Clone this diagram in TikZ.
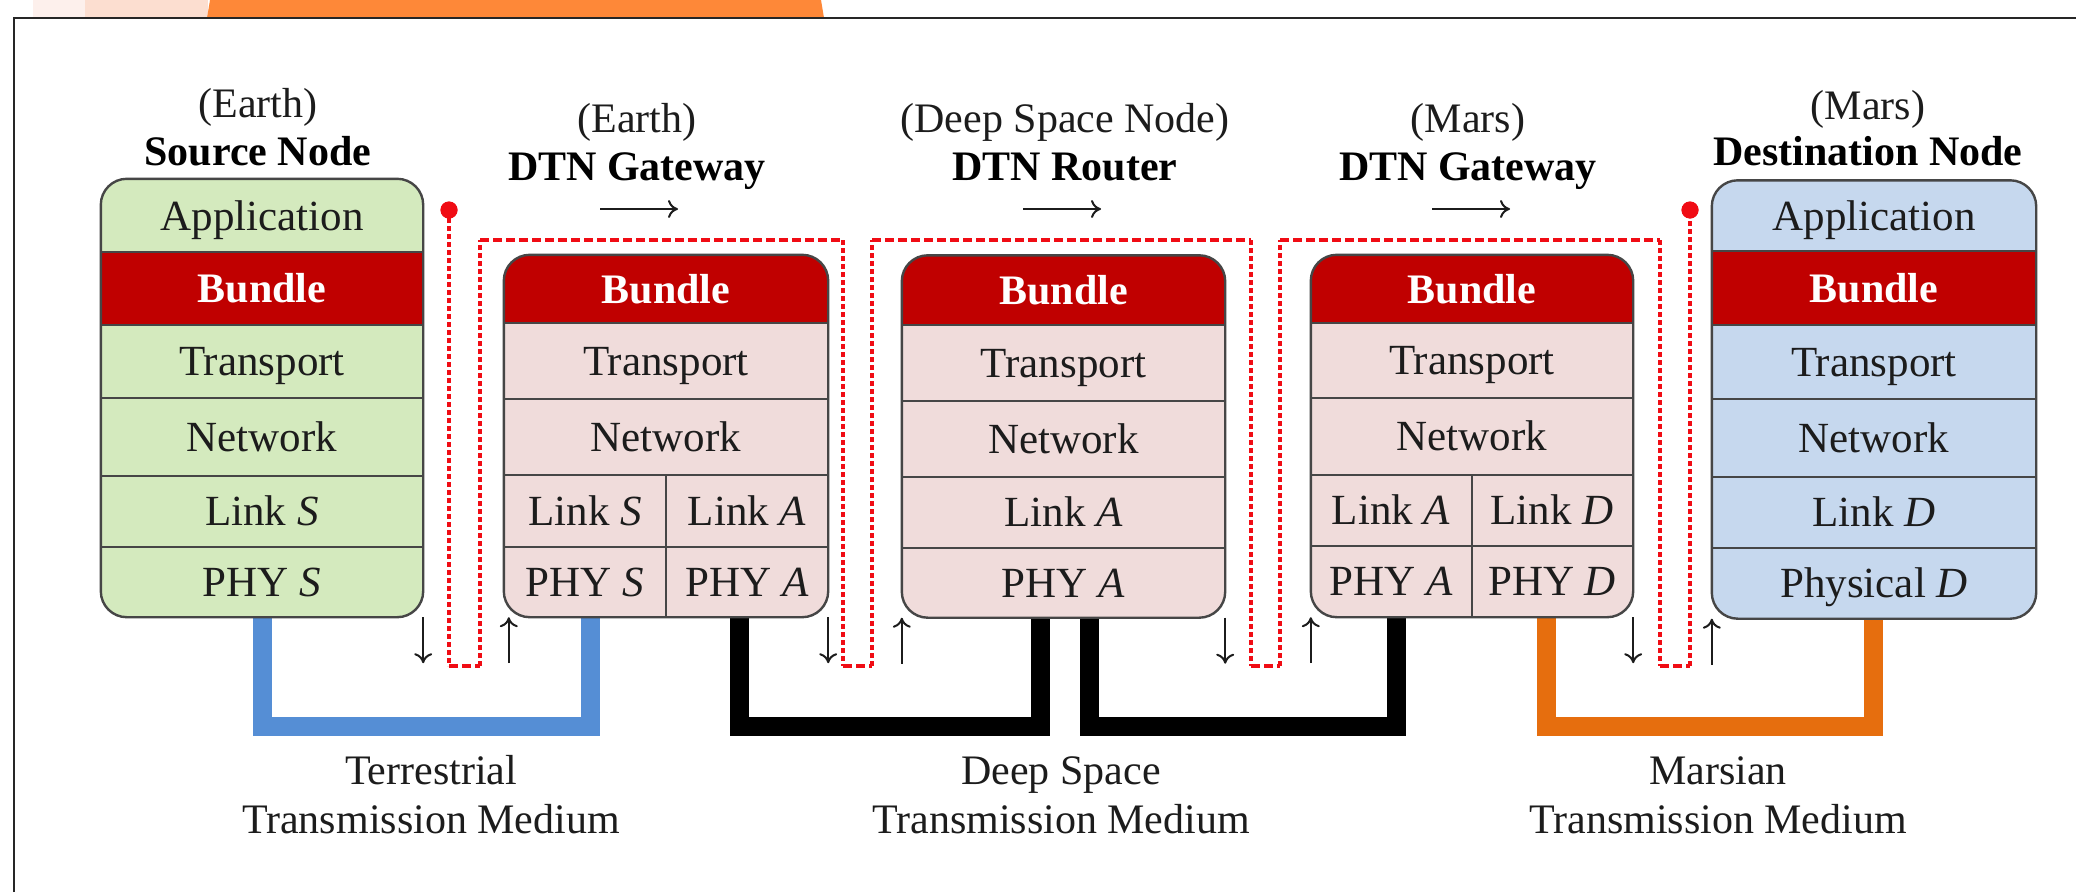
\documentclass[tikz,border=0pt]{standalone}
\usepackage{fontspec}
\setmainfont{Liberation Serif}
\usetikzlibrary{arrows.meta}

\definecolor{srcgreen}{RGB}{212,234,190}
\definecolor{gwpink}{RGB}{240,220,219}
\definecolor{dstblue}{RGB}{198,216,238}
\definecolor{bundlered}{RGB}{192,0,0}
\definecolor{terrblue}{RGB}{85,142,213}
\definecolor{marsorange}{RGB}{230,110,14}
\definecolor{pathred}{RGB}{240,12,20}
\definecolor{ribbon}{RGB}{254,136,56}
\definecolor{peach}{RGB}{252,222,208}
\definecolor{blush}{RGB}{253,240,236}
\definecolor{ink}{RGB}{28,28,28}
\definecolor{edge}{RGB}{70,70,70}

\begin{document}
\begin{tikzpicture}[x=1pt,y=-1pt,
  stackfill/.style={inner sep=0pt,rounded corners=26pt},
  stackbox/.style={draw=edge,line width=2.4pt,rounded corners=26pt},
  sep/.style={draw=edge,line width=2.4pt},
  lay/.style={anchor=base,inner sep=0pt,text=ink,font=\fontsize{43}{50}\selectfont},
  bun/.style={anchor=base,inner sep=0pt,text=white,font=\fontsize{42}{50}\selectfont\bfseries},
  head/.style={anchor=base,inner sep=0pt,text=ink,font=\fontsize{42}{50}\selectfont},
  headb/.style={anchor=base,inner sep=0pt,text=black,font=\fontsize{42}{50}\selectfont\bfseries},
  medlabel/.style={anchor=base,inner sep=0pt,text=ink,font=\fontsize{42}{50}\selectfont},
  medium/.style={line width=19pt},
  hop/.style={draw=ink,line width=2pt,-{To[length=10pt,width=18pt]}},
  vseg/.style={draw=pathred,line width=4pt,dash pattern=on 5pt off 3pt},
  hseg/.style={draw=pathred,line width=4pt,dash pattern=on 9pt off 4pt},
  enddot/.style={circle,fill=pathred,minimum size=17pt,inner sep=0pt}
]
\useasboundingbox (0,0) rectangle (2076,892);
\fill[white] (0,0) rectangle (2076,892);

% slide ribbon above the frame
\fill[blush] (33,0) rectangle (86,18);
\fill[peach] (85,0) rectangle (208,18);
\fill[ribbon] (210,0) -- (821,0) -- (824,18) -- (207,18) -- cycle;
\draw[line width=2.6pt,draw=black!85] (14,892) -- (14,18) -- (2076,18);

% transmission media (drawn first, they run under the stacks)
\coordinate (tA) at (262,600);  \coordinate (tB) at (590,600);
\coordinate (dA) at (739,600);  \coordinate (dB) at (1040,600);
\coordinate (dC) at (1089,600); \coordinate (dD) at (1396,600);
\coordinate (mA) at (1546,600); \coordinate (mB) at (1873,600);
\draw[medium,terrblue] (tA) -- ++(0,126) -| (tB);
\draw[medium,black] (dA) -- ++(0,126) -| (dB);
\draw[medium,black] (dC) -- ++(0,126) -| (dD);
\draw[medium,marsorange] (mA) -- ++(0,126) -| (mB);

% ---------- source node stack ----------
\node[stackfill,fill=srcgreen,minimum width=322pt,minimum height=438pt] (src) at (262,398) {};
\fill[bundlered] (101,252) rectangle (423,325);
\foreach \yy in {252,325,398,476,547} \draw[sep] (101,\yy) -- (423,\yy);
\draw[stackbox] (src.north west) rectangle (src.south east);
\node[lay] (srcapp) at (262,230) {Application};
\node[bun] (srcbun) at (262,302.5) {Bundle};
\node[lay] (srctra) at (262,375.5) {Transport};
\node[lay] (srcnet) at (262,451) {Network};
\node[lay] (srclnk) at (262,525.5) {Link \textit{S}};
\node[lay] (srcphy) at (262,596.5) {PHY \textit{S}};

% ---------- Earth gateway stack ----------
\node[stackfill,fill=gwpink,minimum width=324pt,minimum height=362pt] (gwe) at (666,436) {};
\begin{scope}
  \clip[rounded corners=26pt] (gwe.north west) rectangle (gwe.south east);
  \fill[bundlered] (504,255) rectangle (828,323);
\end{scope}
\foreach \yy in {323,399,475,547} \draw[sep] (504,\yy) -- (828,\yy);
\draw[sep,line width=2pt] (666,475) -- (666,617);
\draw[stackbox] (gwe.north west) rectangle (gwe.south east);
\node[bun] (gwebun) at (666,303) {Bundle};
\node[lay] (gwetra) at (666,375) {Transport};
\node[lay] (gwenet) at (666,451) {Network};
\node[lay] (gwelnks) at (585,525) {Link \textit{S}};
\node[lay] (gwelnka) at (747,525) {Link \textit{A}};
\node[lay] (gwephys) at (585,596) {PHY \textit{S}};
\node[lay] (gwephya) at (747,596) {PHY \textit{A}};

% ---------- deep space router stack ----------
\node[stackfill,fill=gwpink,minimum width=323pt,minimum height=362pt] (rtr) at (1063.5,436.5) {};
\begin{scope}
  \clip[rounded corners=26pt] (rtr.north west) rectangle (rtr.south east);
  \fill[bundlered] (902,255) rectangle (1225,325);
\end{scope}
\foreach \yy in {325,401,477,548} \draw[sep] (902,\yy) -- (1225,\yy);
\draw[stackbox] (rtr.north west) rectangle (rtr.south east);
\node[bun] (rtrbun) at (1063.5,304) {Bundle};
\node[lay] (rtrtra) at (1063.5,377) {Transport};
\node[lay] (rtrnet) at (1063.5,453) {Network};
\node[lay] (rtrlnk) at (1063.5,526.5) {Link \textit{A}};
\node[lay] (rtrphy) at (1063.5,597) {PHY \textit{A}};

% ---------- Mars gateway stack ----------
\node[stackfill,fill=gwpink,minimum width=322pt,minimum height=362pt] (gwm) at (1472,436) {};
\begin{scope}
  \clip[rounded corners=26pt] (gwm.north west) rectangle (gwm.south east);
  \fill[bundlered] (1311,255) rectangle (1633,323);
\end{scope}
\foreach \yy in {323,398,475,546} \draw[sep] (1311,\yy) -- (1633,\yy);
\draw[sep,line width=2pt] (1472,475) -- (1472,617);
\draw[stackbox] (gwm.north west) rectangle (gwm.south east);
\node[bun] (gwmbun) at (1472,303) {Bundle};
\node[lay] (gwmtra) at (1472,374.5) {Transport};
\node[lay] (gwmnet) at (1472,450.5) {Network};
\node[lay] (gwmlnka) at (1391,524.5) {Link \textit{A}};
\node[lay] (gwmlnkd) at (1552,524.5) {Link \textit{D}};
\node[lay] (gwmphya) at (1391,595.5) {PHY \textit{A}};
\node[lay] (gwmphyd) at (1552,595.5) {PHY \textit{D}};

% ---------- destination node stack ----------
\node[stackfill,fill=dstblue,minimum width=324pt,minimum height=438pt] (dst) at (1874,399.5) {};
\fill[bundlered] (1712,251) rectangle (2036,325);
\foreach \yy in {251,325,399,477,548} \draw[sep] (1712,\yy) -- (2036,\yy);
\draw[stackbox] (dst.north west) rectangle (dst.south east);
\node[lay] (dstapp) at (1874,230) {Application};
\node[bun] (dstbun) at (1874,302) {Bundle};
\node[lay] (dsttra) at (1874,376) {Transport};
\node[lay] (dstnet) at (1874,452) {Network};
\node[lay] (dstlnk) at (1874,526.5) {Link \textit{D}};
\node[lay] (dstphy) at (1874,597.5) {Physical \textit{D}};

% ---------- bundle route ----------
\node[enddot] (srcdot) at (449,210) {};
\node[enddot] (dstdot) at (1690,210) {};
\coordinate (r1) at (449,666);  \coordinate (r2) at (480,666);
\coordinate (r3) at (480,240);  \coordinate (r4) at (843,240);
\coordinate (r5) at (843,666);  \coordinate (r6) at (872,666);
\coordinate (r7) at (872,240);  \coordinate (r8) at (1251,240);
\coordinate (r9) at (1251,666); \coordinate (r10) at (1280,666);
\coordinate (r11) at (1280,240); \coordinate (r12) at (1660,240);
\coordinate (r13) at (1660,666); \coordinate (r14) at (1690,666);
\draw[vseg] (srcdot.center) -- (r1);
\draw[vseg] (r2) -- (r3);
\draw[vseg] (r4) -- (r5);
\draw[vseg] (r6) -- (r7);
\draw[vseg] (r8) -- (r9);
\draw[vseg] (r10) -- (r11);
\draw[vseg] (r12) -- (r13);
\draw[vseg] (r14) -- (dstdot.center);
\draw[hseg] (r1) -- (r2);
\draw[hseg] (r3) -- (r4);
\draw[hseg] (r5) -- (r6);
\draw[hseg] (r7) -- (r8);
\draw[hseg] (r9) -- (r10);
\draw[hseg] (r11) -- (r12);
\draw[hseg] (r13) -- (r14);
\node[enddot] at (srcdot) {};
\node[enddot] at (dstdot) {};

% down / up arrows beside each hop
\draw[hop] (src.south east) -- ++(0,46);
\draw[hop] ([xshift=5pt]gwe.south west) ++(0,46) -- ++(0,-46);
\draw[hop] (gwe.south east) -- ++(0,46);
\draw[hop] (rtr.south west) ++(0,46) -- ++(0,-46);
\draw[hop] (rtr.south east) -- ++(0,46);
\draw[hop] (gwm.south west) ++(0,46) -- ++(0,-46);
\draw[hop] (gwm.south east) -- ++(0,46);
\draw[hop] (dst.south west) ++(0,46) -- ++(0,-46);

% ---------- headings ----------
\node[head] (srcwhere) at (258,117) {(Earth)};
\node[headb] (srcname) at (258,165) {Source Node};
\node[head] (gwewhere) at (637,132) {(Earth)};
\node[headb] (gwename) at (637,180) {DTN Gateway};
\node[head] (rtrwhere) at (1065,132) {(Deep Space Node)};
\node[headb] (rtrname) at (1065,180) {DTN Router};
\node[head] (gwmwhere) at (1468,132) {(Mars)};
\node[headb] (gwmname) at (1468,180) {DTN Gateway};
\node[head] (dstwhere) at (1868,119) {(Mars)};
\node[headb] (dstname) at (1868,165) {Destination Node};

% flow direction arrows
\coordinate (fe0) at (600,209);  \coordinate (fe1) at (678,209);
\coordinate (fr0) at (1023,209); \coordinate (fr1) at (1101,209);
\coordinate (fm0) at (1432,209); \coordinate (fm1) at (1510,209);
\draw[hop] (fe0) -- (fe1);
\draw[hop] (fr0) -- (fr1);
\draw[hop] (fm0) -- (fm1);

% ---------- medium labels ----------
\node[medlabel] (terr1) at (431,784) {Terrestrial};
\node[medlabel] (terr2) at (431,833) {Transmission Medium};
\node[medlabel] (deep1) at (1061,784) {Deep Space};
\node[medlabel] (deep2) at (1061,833) {Transmission Medium};
\node[medlabel] (mars1) at (1718,784) {Marsian};
\node[medlabel] (mars2) at (1718,833) {Transmission Medium};
\end{tikzpicture}
\end{document}
